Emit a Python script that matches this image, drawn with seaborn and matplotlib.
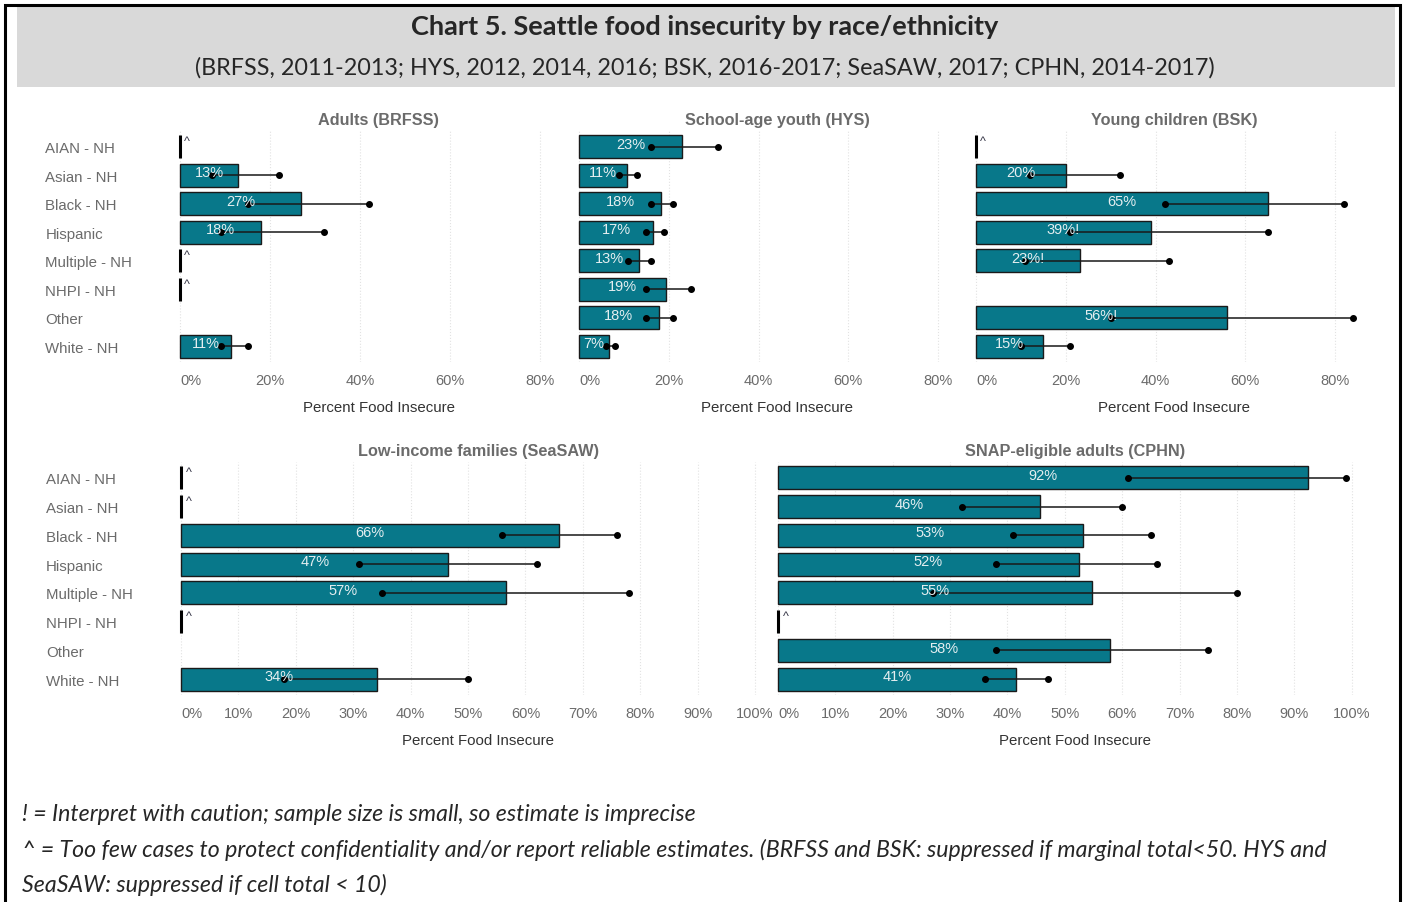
import numpy as np
import pandas as pd
import seaborn as sns
import matplotlib.pyplot as plt
from matplotlib.patches import Rectangle

# data (percent food insecure, 95% CI ends)
races = ["AIAN - NH", "Asian - NH", "Black - NH", "Hispanic",
         "Multiple - NH", "NHPI - NH", "Other", "White - NH"]
nan = np.nan

# "^" = suppressed, "!" = interpret with caution, "" = normal / not shown
brfss_pct = [nan, 12.8, 26.8, 18.0, nan, nan, nan, 11.2]
brfss_lo = [nan, 7, 15, 9, nan, nan, nan, 9]
brfss_hi = [nan, 22, 42, 32, nan, nan, nan, 15]
brfss_note = ["^", "", "", "", "^", "^", "", ""]

hys_pct = [22.9, 10.6, 18.3, 16.6, 13.4, 19.4, 17.8, 6.6]
hys_lo = [16, 9, 16, 15, 11, 15, 15, 6]
hys_hi = [31, 13, 21, 19, 16, 25, 21, 8]
hys_note = ["", "", "", "", "", "", "", ""]

bsk_pct = [nan, 20.1, 65.0, 38.9, 23.2, nan, 55.9, 15.0]
bsk_lo = [nan, 12, 42, 21, 11, nan, 30, 10]
bsk_hi = [nan, 32, 82, 65, 43, nan, 84, 21]
bsk_note = ["^", "", "", "!", "!", "", "!", ""]

seasaw_pct = [nan, nan, 65.8, 46.6, 56.6, nan, nan, 34.1]
seasaw_lo = [nan, nan, 56, 31, 35, nan, nan, 18]
seasaw_hi = [nan, nan, 76, 62, 78, nan, nan, 50]
seasaw_note = ["^", "^", "", "", "", "^", "", ""]

cphn_pct = [92.4, 45.7, 53.1, 52.4, 54.8, nan, 57.8, 41.4]
cphn_lo = [61, 32, 41, 38, 27, nan, 38, 36]
cphn_hi = [99, 60, 65, 66, 80, nan, 75, 47]
cphn_note = ["", "", "", "", "", "^", "", ""]

W, H = 1408, 903
TEAL = "#08788a"
GREY_TXT = "#6b6b6b"

sns.set_style("white")
plt.rcParams['font.family'] = ['Liberation Sans', 'DejaVu Sans']

fig = plt.figure(figsize=(W / 100, H / 100), dpi=100)


def px_axes(left, top, right, bottom):
    return fig.add_axes([left / W, 1 - bottom / H, (right - left) / W, (bottom - top) / H])


def panel(ax, title, pct, lo, hi, note, ticks, xlim, title_x, show_y):
    df = pd.DataFrame({"race": races, "pct": pct})
    sns.barplot(data=df, x="pct", y="race", order=races, color=TEAL,
                edgecolor="#1a1a1a", linewidth=1.0, width=0.8, ax=ax,
                orient="h", saturation=1, zorder=2)
    pos = np.arange(len(races))
    # confidence intervals
    for i in pos:
        if np.isnan(lo[i]):
            continue
        ax.plot([lo[i], hi[i]], [i, i], color="#1a1a1a", lw=1.3, alpha=0.85, zorder=3)
        ax.plot([lo[i], hi[i]], [i, i], "o", color="black", ms=4, zorder=4)
    # value labels and suppression marks
    for i in pos:
        if note[i] == "^":
            ax.vlines(0, i - 0.4, i + 0.4, color="black", lw=2.2, zorder=4)
            ax.text(xlim[1] * 0.009, i - 0.2, "^", fontsize=9, color="#333344",
                    ha="left", va="center", zorder=5)
        elif not np.isnan(pct[i]):
            ax.text(pct[i] / 2, i - 0.1, f"{pct[i]:.0f}%" + note[i], color="#e4eef0",
                    fontsize=10.5, ha="center", va="center", zorder=5)
    ax.set_xlim(*xlim)
    ax.set_ylim(7.55, -0.55)
    ax.set_xticks(ticks)
    labs = ax.set_xticklabels([f"{t}%" for t in ticks])
    labs[0].set_horizontalalignment("left")
    ax.grid(axis="x", color="#e2e2e2", linestyle=":", lw=0.8, zorder=0)
    ax.tick_params(axis="x", length=0, pad=8, labelsize=10.5, labelcolor=GREY_TXT)
    if show_y:
        ax.tick_params(axis="y", length=0, pad=94, labelsize=10.8, labelcolor=GREY_TXT)
        for t in ax.get_yticklabels():
            t.set_horizontalalignment("left")
    else:
        ax.set_yticklabels([])
        ax.tick_params(axis="y", length=0)
    ax.set_ylabel("")
    ax.set_xlabel("Percent Food Insecure", fontsize=10.8, color="#333333")
    ax.xaxis.set_label_coords(title_x, -0.165)
    ax.set_title(title, fontsize=11.7, fontweight="bold", color=GREY_TXT, x=title_x, pad=5)
    sns.despine(ax=ax, left=True, bottom=True)
    ax.patch.set_alpha(0)


top_ticks = [0, 20, 40, 60, 80]
bot_ticks = [0, 10, 20, 30, 40, 50, 60, 70, 80, 90, 100]
top_lim = (-1, 86)
bot_lim = (-0.8, 101.5)
top_tx = (44.2 - top_lim[0]) / (top_lim[1] - top_lim[0])
bot_tx = (51.8 - bot_lim[0]) / (bot_lim[1] - bot_lim[0])

ax1 = px_axes(176, 132, 566.6, 363)
ax2 = px_axes(574.5, 132, 965, 363)
ax3 = px_axes(971.5, 132, 1362, 363)
ax4 = px_axes(176.4, 463, 763.6, 696)
ax5 = px_axes(773.3, 463, 1360.5, 696)

panel(ax1, "Adults (BRFSS)", brfss_pct, brfss_lo, brfss_hi, brfss_note, top_ticks, top_lim, top_tx, True)
panel(ax2, "School-age youth (HYS)", hys_pct, hys_lo, hys_hi, hys_note, top_ticks, top_lim, top_tx, False)
panel(ax3, "Young children (BSK)", bsk_pct, bsk_lo, bsk_hi, bsk_note, top_ticks, top_lim, top_tx, False)
panel(ax4, "Low-income families (SeaSAW)", seasaw_pct, seasaw_lo, seasaw_hi, seasaw_note, bot_ticks, bot_lim, bot_tx, True)
panel(ax5, "SNAP-eligible adults (CPHN)", cphn_pct, cphn_lo, cphn_hi, cphn_note, bot_ticks, bot_lim, bot_tx, False)

# header band, frame
fig.patches.append(Rectangle((17 / W, 1 - 88 / H), (1395 - 17) / W, 80 / H,
                             transform=fig.transFigure, facecolor="#d9d9d9", edgecolor="none", zorder=0))
fig.patches.append(Rectangle((5 / W, -0.05), (1400 - 5) / W, 1.05 - 6 / H,
                             transform=fig.transFigure, facecolor="none", edgecolor="black",
                             lw=2.2, zorder=1))

fig.text(705 / W, 1 - 27 / H, "Chart 5. Seattle food insecurity by race/ethnicity",
         ha="center", va="center", fontsize=19.5, fontweight="bold", family=["Lato", "DejaVu Sans"])
fig.text(705 / W, 1 - 68 / H,
         "(BRFSS, 2011-2013; HYS, 2012, 2014, 2016; BSK, 2016-2017; SeaSAW, 2017; CPHN, 2014-2017)",
         ha="center", va="center", fontsize=16.8, family=["Lato", "DejaVu Sans"])

notes = ["! = Interpret with caution; sample size is small, so estimate is imprecise",
         "^ = Too few cases to protect confidentiality and/or report reliable estimates. "
         "(BRFSS and BSK: suppressed if marginal total<50. HYS and",
         "SeaSAW: suppressed if cell total < 10)"]
for k, line in enumerate(notes):
    fig.text(22 / W, 1 - (815 + 35 * k) / H, line, ha="left", va="center",
             fontsize=16.7, style="italic", family=["Lato", "DejaVu Sans"])

plt.savefig("out.png", dpi=100)
